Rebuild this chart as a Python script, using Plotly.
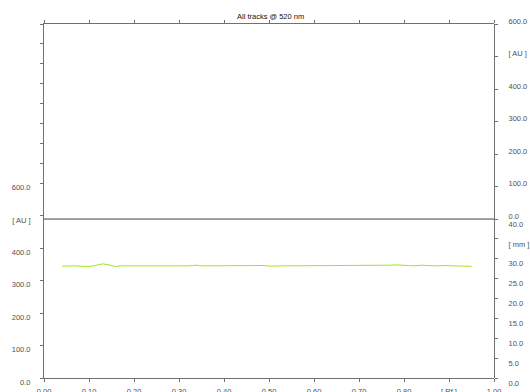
import plotly.graph_objects as go

# ---- data ----
rf = [round(0.04 + 0.01 * i, 2) for i in range(92)]
au = [345, 346, 346, 346, 345, 344, 344, 346, 349, 352,
      350, 346, 344, 346, 346, 346, 345, 344, 346, 344,
      346, 344, 346, 346, 346, 345, 346, 346, 346, 347,
      348, 346, 346, 346, 346, 348, 348, 348, 346, 346,
      346, 348, 346, 348, 346, 347, 345, 346, 346, 346,
      346, 346, 347, 348, 346, 346, 346, 346, 346, 346,
      346, 346, 347, 346, 346, 347, 346, 346, 347, 346,
      347, 348, 347, 348, 349, 349, 348, 347, 346, 348,
      348, 347, 346, 347, 346, 347, 346, 346, 346, 345,
      345, 344]

title_text = "All tracks @ 520 nm"
x_tickvals = [0.0, 0.1, 0.2, 0.3, 0.4, 0.5, 0.6, 0.7, 0.8, 0.9, 1.0]
x_ticktext = ["0.00", "0.10", "0.20", "0.30", "0.40", "0.50", "0.60", "0.70", "0.80", "[ Rf ]", "1.00"]

left_tickvals = [0, 100, 200, 300, 400, 500, 600, 661.7, 723.4, 785.1, 846.8, 908.5, 970.2, 1031.9, 1092]
left_ticktext = ["0.0", "100.0", "200.0", "300.0", "400.0", "[ AU ]", "600.0"] + [""] * 8
left_range = [0, 1092]

right_au_tickvals = [0, 100, 200, 300, 400, 500, 600]
right_au_ticktext = ["0.0", "100.0", "200.0", "300.0", "400.0", "[ AU ]", "600.0"]

mm_tickvals = [0, 5, 10, 15, 20, 25, 30, 35, 40]
mm_ticktext = ["0.0", "5.0", "10.0", "15.0", "20.0", "25.0", "30.0", "[ mm ]", "40.0"]

split = 0.449

FONT = "Liberation Sans, Arial, sans-serif"
LBL = dict(family=FONT, size=7.5, color="#505050")
AXC = "#707070"

fig = go.Figure()
# empty traces so that the right-hand axes are drawn
fig.add_trace(go.Scatter(x=[None], y=[None], mode="lines", xaxis="x", yaxis="y2",
                         showlegend=False, hoverinfo="skip"))
fig.add_trace(go.Scatter(x=[None], y=[None], mode="lines", xaxis="x", yaxis="y3",
                         showlegend=False, hoverinfo="skip"))
fig.add_trace(go.Scatter(x=rf, y=au, mode="lines",
                         line=dict(color="#a0e61e", width=1),
                         xaxis="x", yaxis="y", showlegend=False, hoverinfo="skip"))

fig.update_layout(
    width=530, height=392,
    margin=dict(l=44, r=36, t=24, b=14, autoexpand=False),
    paper_bgcolor="white", plot_bgcolor="rgba(0,0,0,0)",
    showlegend=False,
    xaxis=dict(range=[0, 1], tickvals=x_tickvals, ticktext=x_ticktext, automargin=False,
               showgrid=False, zeroline=False, showline=True, linecolor=AXC, linewidth=1,
               mirror="ticks", ticks="outside", ticklen=3, tickcolor=AXC,
               tickfont=LBL, ticklabelstandoff=3),
    yaxis=dict(range=left_range, tickvals=left_tickvals, ticktext=left_ticktext, automargin=False,
               showgrid=False, zeroline=False, showline=True, linecolor=AXC, linewidth=1,
               ticks="outside", ticklen=3, tickcolor=AXC, tickfont=LBL,
               ticklabelstandoff=8, ticklabelshift=4, domain=[0, 1]),
    yaxis2=dict(range=[0, 600], tickvals=right_au_tickvals, ticktext=right_au_ticktext,
                anchor="x", side="right", domain=[split, 1], automargin=False,
                showgrid=False, zeroline=False, showline=True, linecolor=AXC, linewidth=1,
                ticks="outside", ticklen=3, tickcolor=AXC, tickfont=LBL,
                ticklabelstandoff=9, ticklabelshift=-3),
    yaxis3=dict(range=[0, 40], tickvals=mm_tickvals, ticktext=mm_ticktext,
                anchor="x", side="right", domain=[0, split], automargin=False,
                showgrid=False, zeroline=False, showline=True, linecolor=AXC, linewidth=1,
                ticks="outside", ticklen=3, tickcolor=AXC, tickfont=LBL,
                ticklabelstandoff=9, ticklabelshift=5),
    shapes=[dict(type="line", xref="paper", yref="paper", x0=0, x1=1, y0=split, y1=split,
                 line=dict(color="#444444", width=1))],
    annotations=[dict(text=title_text, xref="paper", yref="paper", x=0.504, y=1,
                      xanchor="center", yanchor="bottom", yshift=1, showarrow=False,
                      font=dict(family=FONT, size=7.5, color="#111111"))],
)

fig.write_html("out.html", config={"displayModeBar": False, "staticPlot": True},
               post_script="document.body.style.margin='0';")
